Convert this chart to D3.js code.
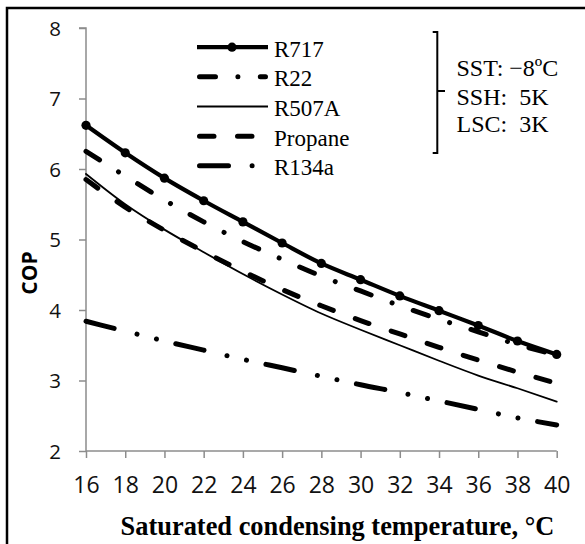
<!DOCTYPE html>
<html>
<head>
<meta charset="utf-8">
<script src="https://cdn.jsdelivr.net/npm/d3@7/dist/d3.min.js"></script>
<style>
  html, body { margin: 0; padding: 0; background: #fff; }
  svg { display: block; }
</style>
</head>
<body>
<svg id="chart" width="585" height="544"></svg>
<script>
// ---- data ----
const temps   = [16, 18, 20, 22, 24, 26, 28, 30, 32, 34, 36, 38, 40];
const r717    = [6.62, 6.23, 5.87, 5.55, 5.25, 4.95, 4.66, 4.43, 4.20, 3.99, 3.78, 3.56, 3.37];
const r22     = [6.25, 5.90, 5.56, 5.25, 4.97, 4.72, 4.48, 4.27, 4.06, 3.87, 3.69, 3.51, 3.36];
const r507a   = [5.93, 5.50, 5.14, 4.82, 4.51, 4.22, 3.95, 3.72, 3.50, 3.28, 3.07, 2.89, 2.70];
const propane = [5.85, 5.46, 5.13, 4.83, 4.55, 4.29, 4.06, 3.85, 3.66, 3.47, 3.29, 3.12, 2.96];
const r134a   = [3.84, 3.70, 3.56, 3.43, 3.30, 3.18, 3.06, 2.94, 2.83, 2.71, 2.59, 2.47, 2.37];
const seriesNames = ["R717", "R22", "R507A", "Propane", "R134a"];
const yTicks = [2, 3, 4, 5, 6, 7, 8];
const xTicks = [16, 18, 20, 22, 24, 26, 28, 30, 32, 34, 36, 38, 40];
const conditionLines = ["SST: \u22128\u00BAC", "SSH:  5K", "LSC:  3K"];
const xTitle = "Saturated condensing temperature, \u00B0C";
const yTitle = "COP";

// ---- styles per series ----
const styles = {
  "R717":    { width: 4.2, dash: null,                        cap: "round", marker: true },
  "R22":     { width: 5,   dash: "16,22.4,0.01,22.4",         cap: "round" },
  "R507A":   { width: 1.8, dash: null,                        cap: "round" },
  "Propane": { width: 5,   dash: "14.5,23.5",                 cap: "round" },
  "R134a":   { width: 5,   dash: "29,23.6,0.01,20,0.01,19.9", cap: "round" }
};
const values = { "R717": r717, "R22": r22, "R507A": r507a, "Propane": propane, "R134a": r134a };

const svg = d3.select("#chart");
const x = d3.scaleLinear().domain([16, 40]).range([86, 556.7]);
const y = d3.scaleLinear().domain([2, 8]).range([451, 28]);

// outer border (right/bottom out of view)
svg.append("rect").attr("x", 7).attr("y", 8).attr("width", 700).attr("height", 700)
  .attr("fill", "none").attr("stroke", "#000").attr("stroke-width", 2.5);

// axes
const axisColor = "#8c8c8c";
const yAxis = svg.append("g").attr("transform", "translate(86,0)")
  .call(d3.axisLeft(y).tickValues(yTicks).tickSize(7).tickFormat(d3.format("d")));
const xAxis = svg.append("g").attr("transform", "translate(0,451)")
  .call(d3.axisBottom(x).tickValues(xTicks).tickSize(7).tickFormat(d3.format("d")));
[yAxis, xAxis].forEach(g => {
  g.select(".domain").attr("stroke", axisColor).attr("stroke-width", 1.5);
  g.selectAll(".tick line").attr("stroke", axisColor).attr("stroke-width", 1.5);
});
yAxis.select(".domain").attr("d", `M-7,${y(8)}H0V${y(2)}`);
xAxis.select(".domain").attr("d", `M${x(16)},0H${x(40)}`);
yAxis.selectAll(".tick text")
  .attr("x", -25).attr("dy", "0.36em")
  .attr("font-family", "'Open Sans', 'DejaVu Sans', sans-serif").attr("font-size", 20.5).attr("fill", "#111");
xAxis.selectAll(".tick text")
  .attr("y", 26).attr("dy", "0.71em")
  .attr("font-family", "'Open Sans', 'DejaVu Sans', sans-serif").attr("font-size", 23).attr("fill", "#111");

// axis titles
svg.append("text").attr("x", 337.5).attr("y", 535).attr("text-anchor", "middle")
  .attr("font-family", "'Liberation Serif', 'Times New Roman', serif").attr("font-weight", "bold")
  .attr("font-size", 26.4).text(xTitle);
svg.append("text").attr("transform", "translate(37,273) rotate(-90)").attr("text-anchor", "middle")
  .attr("font-family", "'Open Sans', 'DejaVu Sans', sans-serif").attr("font-weight", "bold")
  .attr("font-size", 21).text(yTitle);

// lines
const line = d3.line().x(d => x(d[0])).y(d => y(d[1])).curve(d3.curveMonotoneX);
const drawOrder = ["R134a", "R507A", "Propane", "R22", "R717"];
drawOrder.forEach(name => {
  const st = styles[name];
  const pts = temps.map((t, i) => [t, values[name][i]]);
  svg.append("path").datum(pts).attr("d", line)
    .attr("fill", "none").attr("stroke", "#000").attr("stroke-width", st.width)
    .attr("stroke-linecap", st.cap).attr("stroke-linejoin", "round")
    .attr("stroke-dasharray", st.dash);
  if (st.marker) {
    svg.append("g").selectAll("circle").data(pts).join("circle")
      .attr("cx", d => x(d[0])).attr("cy", d => y(d[1])).attr("r", 4.6).attr("fill", "#000");
  }
});

// legend
const legend = svg.append("g");
seriesNames.forEach((name, i) => {
  const st = styles[name];
  const base = 56.7 + i * 29.65;
  const ly = base - 9.5;
  const lx0 = st.dash ? 199.5 : 197, lx1 = st.dash ? 265.5 : 268;
  legend.append("line").attr("x1", lx0).attr("x2", lx1).attr("y1", ly).attr("y2", ly)
    .attr("stroke", "#000").attr("stroke-width", st.width)
    .attr("stroke-linecap", st.dash ? "round" : "butt")
    .attr("stroke-dasharray", st.dash);
  if (st.marker) {
    legend.append("circle").attr("cx", 232).attr("cy", ly).attr("r", 4.6).attr("fill", "#000");
  }
  legend.append("text").attr("x", 274).attr("y", base)
    .attr("font-family", "'Liberation Serif', 'Times New Roman', serif").attr("font-size", 23)
    .text(name);
});

// conditions bracket and text
svg.append("path").attr("d", "M432.7,32H437.3V153H432.7M437.3,91H445")
  .attr("fill", "none").attr("stroke", "#000").attr("stroke-width", 2);
const condBase = [76, 104.5, 132];
conditionLines.forEach((t, i) => {
  svg.append("text").attr("x", 456.5).attr("y", condBase[i])
    .attr("font-family", "'Liberation Serif', 'Times New Roman', serif").attr("font-size", 24)
    .style("white-space", "pre").text(t);
});
</script>
</body>
</html>
